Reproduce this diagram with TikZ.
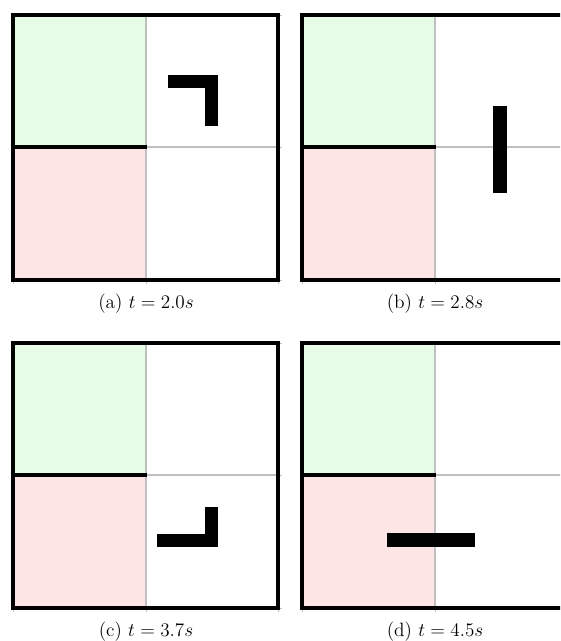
\documentclass[tikz,border=0pt]{standalone}
\usepackage{tikz}
\usetikzlibrary{positioning}
\definecolor{goalzone}{HTML}{E6FCE6}
\definecolor{dangerzone}{HTML}{FDE5E5}
\definecolor{gridgray}{HTML}{C0C0C0}
\tikzset{
  wall/.style={draw=black, line width=3.3pt},
  innerwall/.style={draw=black, line width=2.7pt},
  gridline/.style={draw=gridgray, line width=0.8pt},
  tickmark/.style={draw=gridgray, line width=0.5pt},
  bar/.style={fill=black, draw=none},
  caption/.style={font=\fontsize{14.5}{17}\selectfont, anchor=base, inner sep=0pt}
}

\begin{document}
\begin{tikzpicture}[x=0.75pt,y=-0.75pt]
  \clip (0,0) rectangle (560,641);
  \useasboundingbox (0,0) rectangle (560,641);
  % four snapshots of the same room
  \foreach \px/\py/\lab/\tm in {13/15/a/2.0, 302/15/b/2.8, 13/343/c/3.7, 302/343/d/4.5}{
    \begin{scope}[shift={(\px,\py)}]
      \fill[goalzone] (0,0) rectangle (133,132);
      \fill[dangerzone] (0,132) rectangle (133,265);
      \draw[gridline] (133,0) -- (133,265);
      \draw[gridline] (133,132) -- (265,132);
      \foreach \t in {0,133,265} \draw[tickmark] (\t,265) -- (\t,269);
      \foreach \t in {0,132,265} \draw[tickmark] (265,\t) -- (269,\t);
      \draw[innerwall] (0,132) -- (134,132);
      \draw[wall] (0,0) rectangle (265,265);
      \node[caption] (cap-\lab) at (133,293) {(\lab) $t = \tm s$};
    \end{scope}
  }
  % the moving bar in each snapshot
  \fill[bar] (168,75) rectangle (218,88);
  \fill[bar] (205,75) rectangle (218,126);
  \fill[bar] (493,106) rectangle (507,193);
  \fill[bar] (205,507) rectangle (218,547);
  \fill[bar] (157,534) rectangle (218,547);
  \fill[bar] (387,533) rectangle (475,547);
\end{tikzpicture}
\end{document}
